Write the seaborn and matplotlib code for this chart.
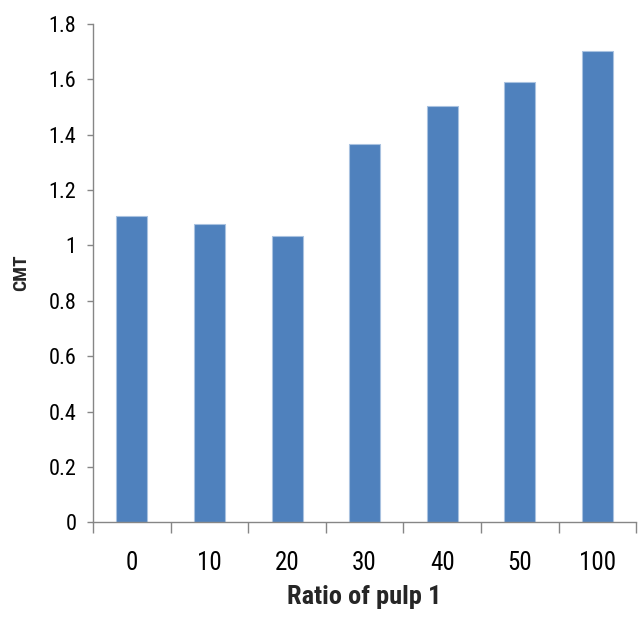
import numpy as np
import pandas as pd
import seaborn as sns
import matplotlib.pyplot as plt
from matplotlib.ticker import FixedLocator

# Data
ratios = ["0", "10", "20", "30", "40", "50", "100"]
cmt = [1.105, 1.078, 1.034, 1.367, 1.502, 1.591, 1.702]

df = pd.DataFrame({"ratio": ratios, "cmt": cmt})

sns.set_style("white")
plt.rcParams["font.family"] = ["Roboto Condensed", "DejaVu Sans"]
plt.rcParams["font.stretch"] = "condensed"
plt.rcParams["text.color"] = "black"

fig = plt.figure(figsize=(6.38, 6.27), dpi=100)
ax = fig.add_axes([0.146, 0.167, 0.851, 0.795])

sns.barplot(data=df, x="ratio", y="cmt", order=ratios, color="#4F81BD",
            width=0.4, edgecolor="#A9C2E0", linewidth=0.8, saturation=1,
            ax=ax)

ax.set_xlim(-0.5, len(ratios) - 0.5)
ax.set_ylim(0, 1.8)
ax.set_yticks(np.arange(0, 1.81, 0.2))
ax.set_yticklabels(["0", "0.2", "0.4", "0.6", "0.8", "1", "1.2", "1.4", "1.6", "1.8"])

# Excel-style category ticks between bars
ax.xaxis.set_minor_locator(FixedLocator(np.arange(-0.5, len(ratios), 1.0)))
ax.tick_params(axis="x", which="major", length=0, pad=21, labelsize=18,
               labelcolor="black")
ax.tick_params(axis="x", which="minor", length=8, color="#868686", width=1,
               direction="out", bottom=True)
ax.tick_params(axis="y", length=4, color="#868686", width=1, direction="out",
               left=True, labelsize=16, pad=8, labelcolor="black")

for side in ["top", "right"]:
    ax.spines[side].set_visible(False)
for side in ["left", "bottom"]:
    ax.spines[side].set_color("#868686")
    ax.spines[side].set_linewidth(1)

ax.set_xlabel("Ratio of pulp 1", fontsize=19, fontweight="bold", labelpad=7)
ax.set_ylabel("CMT", fontsize=14, fontweight="bold", labelpad=13)

fig.savefig("out.png", dpi=100)
